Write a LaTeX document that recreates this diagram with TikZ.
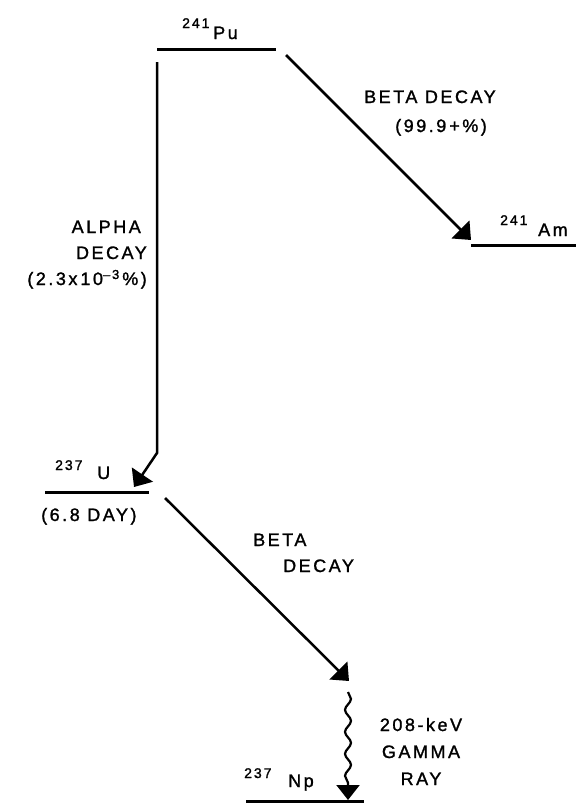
\documentclass[tikz,border=0pt]{standalone}
\usepackage{fontspec}
\setmainfont{Liberation Sans}[LetterSpace=14,FakeBold=1.4]
\usetikzlibrary{arrows.meta,decorations.pathmorphing}
\begin{document}
\begin{tikzpicture}[x=1pt,y=-1pt,
  level/.style={line width=3pt},
  decay/.style={line width=2.5pt,-{Triangle[length=15pt,width=25pt]}},
  gammaray/.style={line width=2.2pt,-{Triangle[length=15pt,width=23pt]},
    decorate,decoration={snake,amplitude=3pt,segment length=22pt,post length=15pt}},
  lbl/.style={inner sep=0pt,font=\fontsize{18}{26}\selectfont},
  iso/.style={inner sep=0pt,font=\fontsize{14}{14}\selectfont}]
\useasboundingbox (0,0) rectangle (576,803);
% levels
\coordinate (puL) at (157,49);  \coordinate (puR) at (276,49);
\coordinate (amL) at (471,245); \coordinate (amR) at (576,245);
\coordinate (uL)  at (45,492);  \coordinate (uR)  at (149,492);
\coordinate (npL) at (246,801); \coordinate (npR) at (364,801);
\draw[level] (puL) -- (puR);
\draw[level] (amL) -- (amR);
\draw[level] (uL) -- (uR);
\draw[level] (npL) -- (npR);
% arrow ends
\coordinate (aS) at (157,62);  \coordinate (aB) at (157,453); \coordinate (aE) at (134,487);
\coordinate (b1S) at (286,55); \coordinate (b1E) at (471,240);
\coordinate (b2S) at (165,498); \coordinate (b2E) at (349,681);
\coordinate (gS) at (348,692); \coordinate (gE) at (348,800);
\draw[decay] (aS) -- (aB) -- (aE);
\draw[decay] (b1S) -- (b1E);
\draw[decay] (b2S) -- (b2E);
\draw[gammaray] (gS) -- (gE);
% isotope labels
\node[iso,anchor=base west] (puA) at (182,28) {241};
\node[lbl,anchor=base west] (puN) at (213,39) {Pu};
\node[iso,anchor=base west] (amA) at (500,225) {241};
\node[lbl,anchor=base west] (amN) at (538,236) {Am};
\node[iso,anchor=base west] (uA) at (55,470) {237};
\node[lbl,anchor=base west] (uN) at (97,479) {U};
\node[iso,anchor=base west] (npA) at (244,778) {237};
\node[lbl,anchor=base west] (npN) at (288,787) {Np};
\node[lbl,anchor=base west] (uT) at (41,521) {(6.8 DAY)};
% decay labels
\node[lbl,anchor=base west] (b1T) at (364,103) {BETA DECAY};
\node[lbl,anchor=base west] (b1P) at (395,132) {(99.9\,+\%)};
\node[lbl,anchor=base east,align=right] (aT) at (147,285)
  {ALPHA\hspace*{6pt}\\DECAY\hspace*{4pt}\\(2.3x\,10\raisebox{6pt}{\fontsize{13}{13}\selectfont --3}\,\%)};
\node[lbl,anchor=base west,align=left] (b2T) at (253,572) {BETA\\\hspace*{30pt}DECAY};
\node[lbl,anchor=base,align=center,font=\fontsize{18}{27}\selectfont] (gT) at (421,785) {208-keV\\GAMMA\\RAY};
\end{tikzpicture}
\end{document}
